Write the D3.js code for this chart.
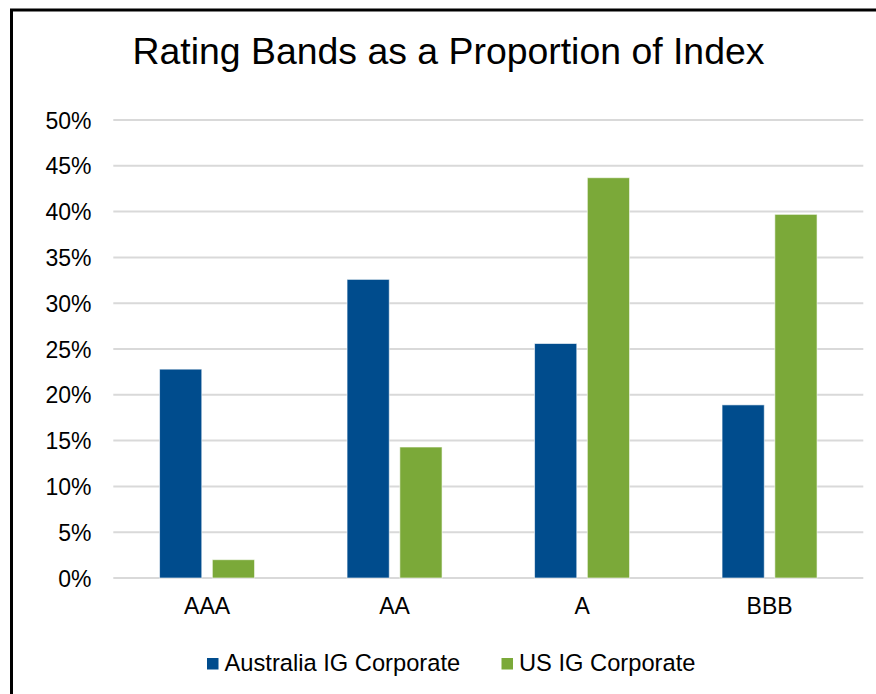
<!DOCTYPE html>
<html>
<head>
<meta charset="utf-8">
<script src="https://cdn.jsdelivr.net/npm/d3@7"></script>
<style>
  html, body { margin: 0; padding: 0; background: #fff; }
  svg { display: block; }
  text { font-family: "Liberation Sans", Arial, sans-serif; fill: #000; }
</style>
</head>
<body>
<svg id="chart" width="876" height="694"></svg>
<script>
const categories = ["AAA", "AA", "A", "BBB"];
const seriesNames = ["Australia IG Corporate", "US IG Corporate"];
const australia = [22.8, 32.6, 25.6, 18.9];
const us = [2.0, 14.3, 43.7, 39.7];
const yTicks = [0, 5, 10, 15, 20, 25, 30, 35, 40, 45, 50];
const colors = ["#004C8D", "#7BA939"];
const title = "Rating Bands as a Proportion of Index";

const seriesValues = [australia, us];
const svg = d3.select("#chart");

// outer border
svg.append("rect")
  .attr("x", 11.5).attr("y", 10)
  .attr("width", 900).attr("height", 720)
  .attr("fill", "none").attr("stroke", "#000").attr("stroke-width", 3);

const plotLeft = 113.3, plotRight = 863.3, plotTop = 120, plotBottom = 578;

const x0 = d3.scaleBand().domain(categories).range([plotLeft, plotRight]).padding(0);
const x1 = d3.scaleBand().domain(seriesNames).range([-47.5, 47.5]).paddingInner(0.2).paddingOuter(0);
const y = d3.scaleLinear().domain([0, 50]).range([plotBottom, plotTop]);

// title
svg.append("text")
  .attr("x", 448.5).attr("y", 63.5)
  .attr("text-anchor", "middle")
  .style("font-size", "37.4px")
  .text(title);

// gridlines
svg.append("g").selectAll("line")
  .data(yTicks)
  .join("line")
  .attr("x1", plotLeft).attr("x2", plotRight)
  .attr("y1", d => y(d)).attr("y2", d => y(d))
  .attr("stroke", "#d9d9d9").attr("stroke-width", 2);

// y axis labels
const yAxis = d3.axisLeft(y).tickValues(yTicks).tickFormat(d => d + "%").tickSize(0).tickPadding(0);
const gy = svg.append("g").attr("transform", `translate(91.5,0)`).call(yAxis);
gy.select(".domain").remove();
gy.selectAll("text").style("font-size", "23px").style("font-family", '"Liberation Sans", Arial, sans-serif').attr("fill", "#000").attr("dy", "0.35em");

// bars
const groups = svg.append("g").selectAll("g")
  .data(categories)
  .join("g")
  .attr("transform", d => `translate(${x0(d) + x0.bandwidth() / 2},0)`);

groups.selectAll("rect")
  .data((d, i) => seriesNames.map((s, j) => ({ s, j, v: seriesValues[j][i] })))
  .join("rect")
  .attr("x", d => x1(d.s))
  .attr("width", x1.bandwidth())
  .attr("y", d => y(d.v))
  .attr("height", d => y(0) - y(d.v))
  .attr("fill", d => colors[d.j])
  .attr("stroke", "rgba(255,255,255,0.6)")
  .attr("stroke-width", 1);

// x axis labels
const xAxis = d3.axisBottom(x0).tickSize(0).tickPadding(0);
const gx = svg.append("g").attr("transform", `translate(0,613.5)`).call(xAxis);
gx.select(".domain").remove();
gx.selectAll("text").style("font-size", "23px").style("font-family", '"Liberation Sans", Arial, sans-serif').attr("fill", "#000").attr("dy", "0");

// legend
const legendX = [207, 501.5];
const lg = svg.append("g").selectAll("g")
  .data(seriesNames)
  .join("g")
  .attr("transform", (d, i) => `translate(${legendX[i]},0)`);
lg.append("rect")
  .attr("x", 0).attr("y", 658)
  .attr("width", 11.5).attr("height", 11.5)
  .attr("fill", (d, i) => colors[i]);
lg.append("text")
  .attr("x", 17.5)
  .attr("y", 670.5)
  .style("font-size", "23.7px")
  .text(d => d);
</script>
</body>
</html>
